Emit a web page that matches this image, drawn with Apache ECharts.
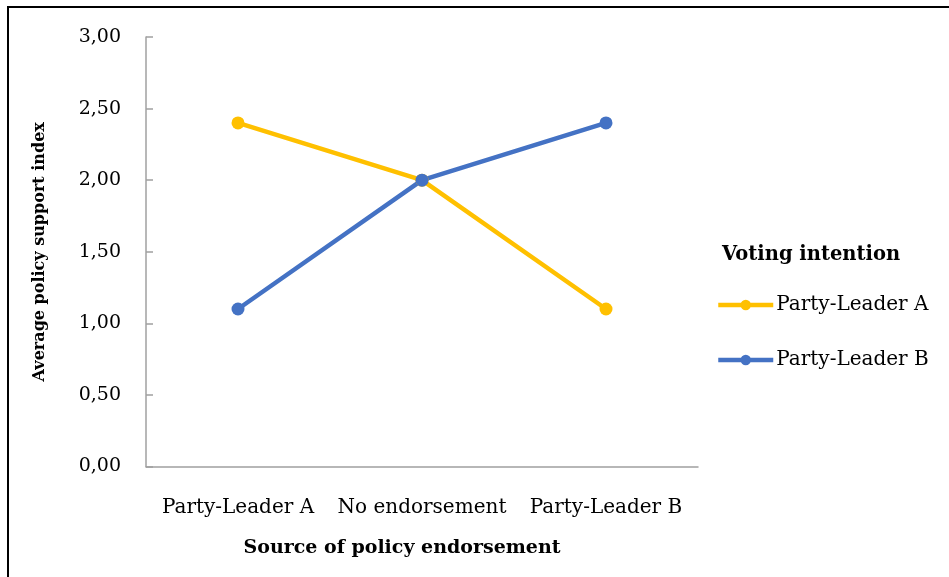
<!DOCTYPE html>
<html>
<head>
<meta charset="utf-8">
<script src="https://cdn.jsdelivr.net/npm/echarts@6/dist/echarts.min.js"></script>
<style>
  html, body { margin: 0; padding: 0; background: #fff; overflow: hidden; }
  #frame { position: absolute; left: 7px; top: 6px; width: 960px; height: 600px;
           border-top: 2px solid #000; border-left: 2px solid #000; }
  #chart { position: absolute; left: 0; top: 0; width: 949px; height: 577px; }
</style>
</head>
<body>
<div id="frame"></div>
<div id="chart"></div>
<script>
// ─── Data ───────────────────────────────────────────────────────────────────
const categories = ['Party-Leader A', 'No endorsement', 'Party-Leader B'];
const leaderA = [2.40, 2.00, 1.10];
const leaderB = [1.10, 2.00, 2.40];
const seriesNames = ['Party-Leader A', 'Party-Leader B'];

const FONT = '"DejaVu Serif", "Liberation Serif", serif';
const AXIS_GRAY = '#a0a0a0';

const chart = echarts.init(document.getElementById('chart'), null, { renderer: 'canvas' });

chart.setOption({
  backgroundColor: 'transparent',
  textStyle: { fontFamily: FONT, color: '#000' },
  color: ['#FFC000', '#4472C4'],
  grid: { left: 146, top: 37, right: 251, bottom: 110.5, containLabel: false },
  graphic: [{
    type: 'text',
    left: 722,
    top: 245,
    style: { text: 'Voting intention', font: 'bold 19.5px ' + FONT, fill: '#000' }
  }],
  legend: {
    orient: 'vertical',
    left: 711,
    top: 290,
    itemWidth: 55,
    itemHeight: 13,
    itemGap: 35,
    lineStyle: { width: 4.5 },
    textStyle: { fontFamily: FONT, fontSize: 20, color: '#000', padding: [0, 0, 0, -2] },
    data: seriesNames
  },
  xAxis: {
    type: 'category',
    data: categories,
    boundaryGap: true,
    name: 'Source of policy endorsement',
    nameLocation: 'middle',
    nameGap: 72,
    nameTextStyle: { fontFamily: FONT, fontSize: 19, fontWeight: 'bold', color: '#000', padding: [0, 40, 0, 0] },
    axisLine: { lineStyle: { color: AXIS_GRAY, width: 1.5 } },
    axisTick: { inside: true, length: 7, lineStyle: { color: AXIS_GRAY, width: 1.5 } },
    axisLabel: { interval: 0, fontFamily: FONT, fontSize: 20, color: '#000', margin: 31 },
    splitLine: { show: false }
  },
  yAxis: {
    type: 'value',
    min: 0,
    max: 3,
    interval: 0.5,
    name: 'Average policy support index',
    nameLocation: 'middle',
    nameGap: 98,
    nameTextStyle: { fontFamily: FONT, fontSize: 16, fontWeight: 'bold', color: '#000' },
    axisLine: { show: true, lineStyle: { color: AXIS_GRAY, width: 1.5 } },
    axisTick: { show: true, inside: true, length: 7, lineStyle: { color: AXIS_GRAY, width: 1.5 } },
    axisLabel: {
      fontFamily: FONT, fontSize: 19, color: '#000', margin: 25,
      formatter: v => v.toFixed(2).replace('.', ',')
    },
    splitLine: { show: false }
  },
  series: [
    {
      name: seriesNames[0],
      type: 'line',
      data: leaderA,
      symbol: 'circle',
      symbolSize: 13,
      lineStyle: { width: 4.5 },
      itemStyle: { color: '#FFC000' }
    },
    {
      name: seriesNames[1],
      type: 'line',
      data: leaderB,
      symbol: 'circle',
      symbolSize: 13,
      lineStyle: { width: 4.5 },
      itemStyle: { color: '#4472C4' }
    }
  ]
});
</script>
</body>
</html>
